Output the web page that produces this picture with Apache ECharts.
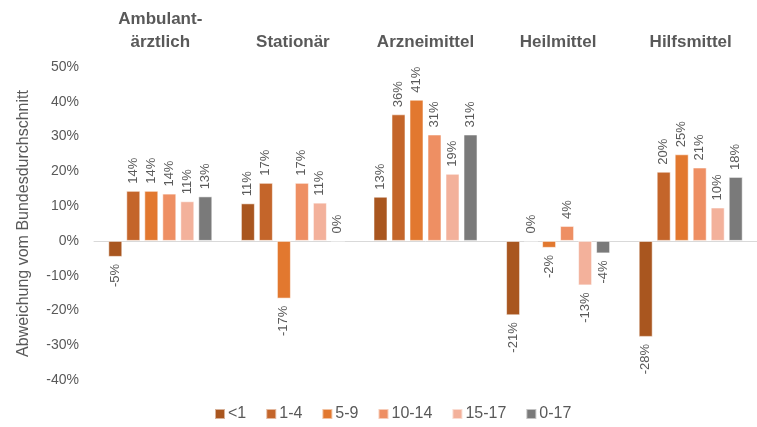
<!DOCTYPE html>
<html>
<head>
<meta charset="utf-8">
<script src="https://cdn.jsdelivr.net/npm/echarts@6/dist/echarts.min.js"></script>
<style>html,body{margin:0;padding:0;background:#fff}#c{width:757px;height:427px}</style>
</head>
<body>
<div id="c"></div>
<script>
var categories = ['Ambulant-\närztlich', 'Stationär', 'Arzneimittel', 'Heilmittel', 'Hilfsmittel'];
var seriesNames = ['<1', '1-4', '5-9', '10-14', '15-17', '0-17'];
var lt1   = [-4.6, 10.8, 12.7, -21.4, -27.6];
var a1_4  = [14.4, 16.7, 36.4, 0, 19.9];
var a5_9  = [14.4, -16.6, 40.6, -2, 24.9];
var a10_14= [13.6, 16.7, 30.6, 4.3, 21.1];
var a15_17= [11.4, 11.0, 19.3, -12.8, 9.6];
var a0_17 = [12.8, 0, 30.6, -3.6, 18.4];
var yTicks = [-40, -30, -20, -10, 0, 10, 20, 30, 40, 50];

var colors = ['#A9561F', '#C4652A', '#E2782F', '#EE8F63', '#F3B19B', '#7A7A7A'];
var allData = [lt1, a1_4, a5_9, a10_14, a15_17, a0_17];
var txt = '#595959';
var ff = '"Liberation Sans", Arial, sans-serif';

function mkData(arr) {
  return arr.map(function (v) {
    var neg = v < 0;
    return {
      value: v,
      label: {
        show: true,
        position: neg ? 'bottom' : 'top',
        rotate: 90,
        align: neg ? 'right' : 'left',
        verticalAlign: 'middle',
        distance: 7,
        color: txt,
        fontSize: 13,
        fontFamily: ff,
        formatter: function (p) { return Math.round(p.value) + '%'; }
      }
    };
  });
}

var series = seriesNames.map(function (n, i) {
  return {
    name: n,
    type: 'bar',
    xAxisIndex: 0,
    barWidth: 14,
    barGap: '28.6%',
    itemStyle: { color: colors[i], borderColor: 'rgba(255,255,255,0.55)', borderWidth: 1 },
    data: mkData(allData[i])
  };
});

var chart = echarts.init(document.getElementById('c'), null, { renderer: 'canvas' });
chart.setOption({
  animation: false,
  backgroundColor: '#fff',
  textStyle: { fontFamily: ff },
  grid: { left: 94, right: -12, top: 67, height: 313 },
  legend: {
    data: seriesNames,
    left: 214, top: 406, padding: 0,
    itemWidth: 10, itemHeight: 10, itemGap: 19,
    icon: 'rect',
    textStyle: { color: txt, fontSize: 16, fontFamily: ff, padding: [0, 0, 0, -2] }
  },
  xAxis: [{
    type: 'category',
    data: categories,
    axisLine: { show: true, onZero: true, lineStyle: { color: '#D9D9D9', width: 1 } },
    axisTick: { show: false },
    axisLabel: { show: false }
  }, {
    type: 'category',
    data: categories,
    position: 'top',
    axisLine: { show: false },
    axisTick: { show: false },
    axisLabel: { show: true, margin: 13, color: txt, fontSize: 17, fontWeight: 'bold', fontFamily: ff, lineHeight: 23, interval: 0 }
  }],
  yAxis: {
    type: 'value',
    min: -40, max: 50, interval: 10,
    splitLine: { show: false },
    axisLine: { show: false },
    axisTick: { show: false },
    axisLabel: { color: txt, fontSize: 14, fontFamily: ff, margin: 15, formatter: function (v) { return v + '%'; } },
    name: 'Abweichung vom Bundesdurchschnitt',
    nameLocation: 'middle',
    nameGap: 62,
    nameTextStyle: { color: txt, fontSize: 16, fontFamily: ff }
  },
  series: series
});
</script>
</body>
</html>
